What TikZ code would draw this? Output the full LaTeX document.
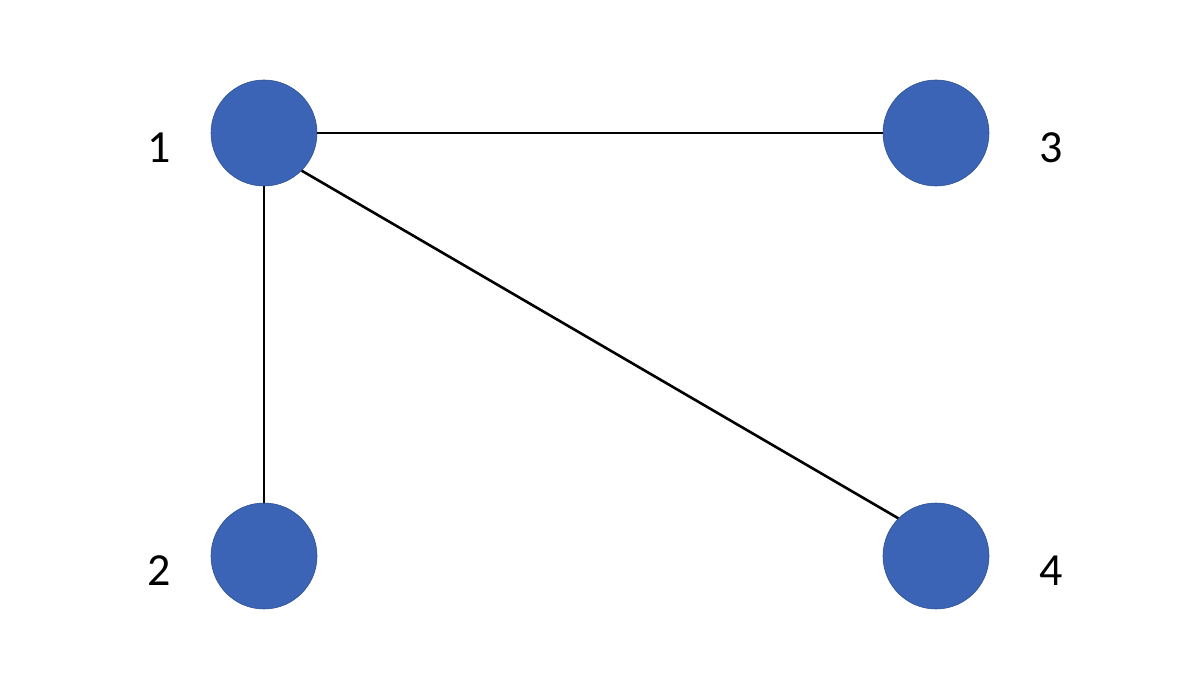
\documentclass[tikz,border=0pt]{standalone}
\usepackage{fontspec}
\setmainfont{Carlito}
\definecolor{nodeblue}{HTML}{3B64B7}
\definecolor{nodeedge}{HTML}{2F528F}
\begin{document}
\begin{tikzpicture}[x=1pt,y=-1pt,
  vert/.style={circle,fill=nodeblue,draw=nodeedge,line width=0.6pt,minimum size=106pt,inner sep=0pt},
  lbl/.style={font=\fontsize{46}{52}\selectfont,text=black},
  edge/.style={line width=2.6pt,black}]
\useasboundingbox (0,0) rectangle (1200,676);
\node[vert] (n1) at (264,133) {};
\node[vert] (n2) at (264,556) {};
\node[vert] (n3) at (936,133) {};
\node[vert] (n4) at (936,556) {};
\node[lbl] (l1) at (159,148) {1};
\node[lbl] (l2) at (159,571) {2};
\node[lbl] (l3) at (1051,148) {3};
\node[lbl] (l4) at (1051,571) {4};
\draw[edge] (n1.east) -- (n3.west);
\draw[edge] (n1.south) -- (n2.north);
\draw[edge] (n1.-45) -- (n4.135);
\end{tikzpicture}
\end{document}
